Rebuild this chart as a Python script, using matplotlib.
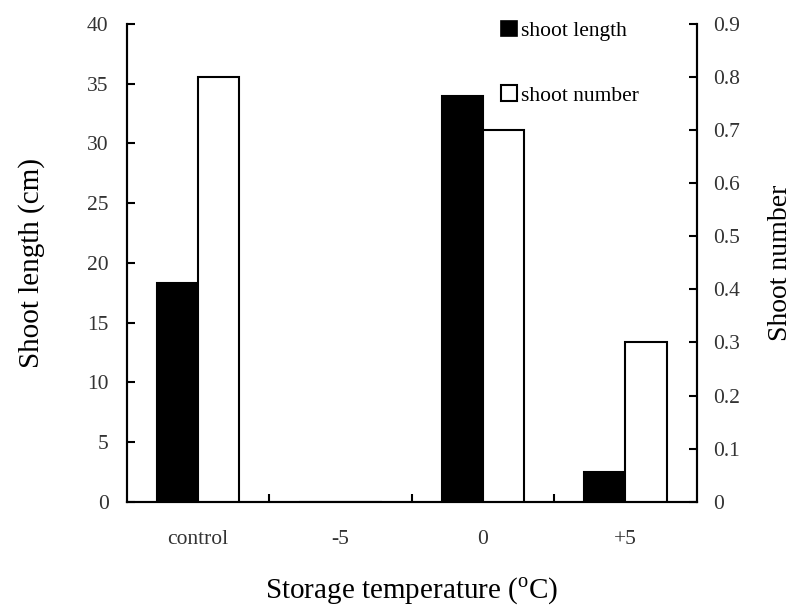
import numpy as np
import matplotlib
matplotlib.use("Agg")
import matplotlib.pyplot as plt
from matplotlib.patches import Patch

plt.rcParams["font.family"] = ["Liberation Serif", "DejaVu Serif"]
plt.rcParams["mathtext.fontset"] = "custom"
plt.rcParams["mathtext.rm"] = "Liberation Serif"

categories = ["control", "-5", "0", "+5"]
shoot_length = [18.3, 0, 34, 2.5]      # cm, left axis
shoot_number = [0.8, 0, 0.7, 0.3]      # right axis

x = np.arange(len(categories))
w = 0.29

fig = plt.figure(figsize=(7.97, 6.1), dpi=100)
ax = fig.add_axes([0.159, 0.1775, 0.715, 0.7832])
ax2 = ax.twinx()

ax.bar(x - w / 2, shoot_length, width=w, color="black", edgecolor="black", linewidth=1.5)
ax2.bar(x + w / 2, shoot_number, width=w, color="white", edgecolor="black", linewidth=1.5)

ax.set_xlim(-0.5, len(categories) - 0.5)
ax.set_ylim(0, 40)
ax2.set_ylim(0, 0.9)
ax.set_yticks(np.arange(0, 41, 5))
ax2.set_yticks(np.arange(0, 0.91, 0.1))
ax2.set_yticklabels(["0"] + ["%.1f" % v for v in np.arange(0.1, 0.91, 0.1)])

# labels at category centres, ticks at category boundaries
ax.set_xticks(x)
ax.set_xticklabels(categories)
ax.set_xticks(np.arange(0.5, len(categories) - 1, 1), minor=True)
ax.tick_params(axis="x", which="major", length=0, pad=20, labelsize=15.5)
ax.tick_params(axis="x", which="minor", direction="in", length=6, width=1.5)
ax.tick_params(axis="y", direction="in", length=6, width=1.5, pad=13, labelsize=15.5)
ax2.tick_params(axis="y", direction="in", length=6, width=1.5, pad=12, labelsize=15.5)

for a in (ax, ax2):
    a.spines["top"].set_visible(False)
    for s in ("left", "right", "bottom"):
        a.spines[s].set_linewidth(1.5)
    for lab in a.get_yticklabels() + a.get_xticklabels():
        lab.set_color("#333333")

ax.set_ylabel("Shoot length (cm)", fontsize=21)
ax2.set_ylabel("Shoot number", fontsize=20)
ax.yaxis.set_label_coords(-0.143, 0.5)
ax2.yaxis.set_label_coords(1.125, 0.5)
ax.set_xlabel("Storage temperature ($^{\\rm o}$C)", fontsize=21)
ax.xaxis.set_label_coords(0.5, -0.156)

handles = [Patch(facecolor="black", edgecolor="black", linewidth=1.2),
           Patch(facecolor="white", edgecolor="black", linewidth=1.5)]
fig.legend(handles, ["shoot length", "shoot number"], loc="upper left",
           bbox_to_anchor=(0.604, 0.998), frameon=False, fontsize=15.5,
           handlelength=0.75, handleheight=0.75, handletextpad=0.2,
           labelspacing=2.05)

fig.savefig("out.png", dpi=100)
